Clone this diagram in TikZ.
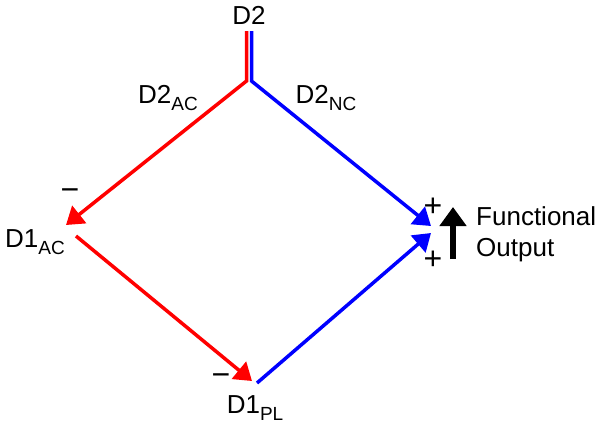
\documentclass[tikz,border=0pt]{standalone}
\usepackage{fontspec}
\setmainfont{Liberation Sans}
\usetikzlibrary{arrows.meta}
\newcommand{\lowsub}[1]{\raisebox{-6.5pt}{\fontsize{19}{19}\selectfont #1}}
\begin{document}
\begin{tikzpicture}[
  x=1pt, y=-1pt,
  font=\fontsize{26}{31}\selectfont,
  lbl/.style={inner sep=0pt},
  sign/.style={inner sep=0pt, font=\fontsize{32}{32}\selectfont},
  redarr/.style={draw=red, line width=3.5pt, -{Triangle[length=17pt, width=22pt]}, red},
  bluearr/.style={draw=blue, line width=3.5pt, -{Triangle[length=17pt, width=22pt]}, blue},
  outarr/.style={line width=6pt, -{Triangle[length=19pt, width=26pt]}}]
\useasboundingbox (0,0) rectangle (601,429);
% labels
\node[lbl] (d2) at (249,15) {D2};
\node[lbl] (d2ac) at (168,98) {D2\lowsub{AC}};
\node[lbl] (d2nc) at (326,98) {D2\lowsub{NC}};
\node[lbl] (d1ac) at (35,242) {D1\lowsub{AC}};
\node[lbl] (d1pl) at (255,408) {D1\lowsub{PL}};
\node[lbl, anchor=west, align=left] (out) at (476,234) {Functional\\Output};
\node[sign] (mac) at (70,195) {\textminus};
\node[sign] (mpl) at (221,380) {\textminus};
\node[sign] (p1) at (433,207) {+};
\node[sign] (p2) at (433,260) {+};
% junction points
\coordinate (rtop) at (246.5,31);
\coordinate (rj) at (246.5,81);
\coordinate (btop) at (251.5,31);
\coordinate (bj) at (251.5,81);
\coordinate (acin) at (66,225);
\coordinate (acout) at (76,236);
\coordinate (plin) at (252,381);
\coordinate (plout) at (257,383);
\coordinate (sumtop) at (431,226);
\coordinate (sumbot) at (431,233);
% pathways
\draw[redarr] (rtop) -- (rj) -- (acin);
\draw[bluearr] (btop) -- (bj) -- (sumtop);
\draw[redarr] (acout) -- (plin);
\draw[bluearr] (plout) -- (sumbot);
\draw[outarr] (453,259) -- (453,207);
\end{tikzpicture}
\end{document}
